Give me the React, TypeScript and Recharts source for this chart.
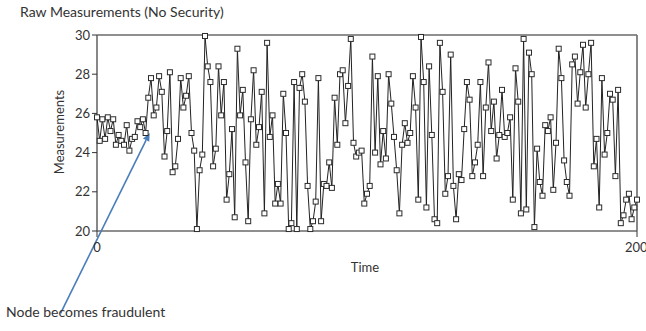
import React from 'react';
import {
  LineChart,
  Line,
  XAxis,
  YAxis,
  CartesianGrid,
  ReferenceLine,
  Label,
} from 'recharts';

const TITLE = 'Raw Measurements (No Security)';
const NOTE = 'Node becomes fraudulent';
const X_TICKS = [0, 200];
const Y_TICKS = [20, 22, 24, 26, 28, 30];

const MEASUREMENTS = [
  25.8, 24.6, 25.7, 24.7, 25.8, 25.1, 25.7, 24.4, 24.9, 24.6, 24.4, 25.4, 24.1, 24.7, 24.8, 25.6, 25.3,
  25.7, 25.0, 26.8, 27.8, 25.9, 26.3, 27.9, 27.1, 23.8, 25.1, 28.1, 23.0, 23.3, 24.7, 27.8,
  26.3, 26.9, 27.9, 25.0, 24.1, 20.1, 23.1, 23.9, 29.95, 28.4, 27.6, 23.3, 24.2, 28.4, 25.9, 27.6,
  21.6, 22.9, 25.2, 20.7, 29.3, 25.9, 27.2, 23.5, 20.5, 25.7, 28.2, 24.4, 25.3, 27.1, 20.9, 29.6,
  24.8, 25.9, 21.4,
  22.4, 21.4, 27.0, 25.0, 20.1, 20.4, 27.6, 20.1, 27.3, 28.0, 26.6, 22.3, 20.1, 20.5, 21.5, 27.8,
  20.5, 22.4, 22.3, 23.5, 22.2, 26.8, 24.4, 28.0, 28.2, 25.5, 27.4, 29.8, 24.5, 23.8, 24.0, 24.1,
  21.4,
  21.9, 22.3, 28.9, 24.0, 27.9, 23.4, 25.1, 23.7, 28.0, 26.5, 24.8, 23.1, 20.9, 24.4, 25.5, 24.5,
  25.0, 27.9, 26.3, 21.6, 29.9, 27.6, 21.2, 28.4, 24.9, 20.6, 20.4, 29.6, 27.1, 21.9, 22.8, 29.0,
  22.3, 20.6,
  22.9, 22.6, 25.2, 27.6, 26.7, 22.8, 23.5, 24.4, 27.6, 22.8, 26.3, 28.6, 25.1, 26.6, 23.7, 24.9,
  27.2, 24.8, 25.0, 25.8, 21.6, 28.3, 26.6, 20.9, 29.8, 21.1, 29.1, 28.0, 20.2, 24.2, 22.5, 21.8,
  25.4,
  25.1, 25.8, 22.1, 24.5, 29.3, 27.8, 23.6, 22.5, 21.8, 28.5, 28.9, 26.5, 28.1, 29.5, 26.3, 28.0,
  29.6, 23.3, 24.7, 21.2, 27.8, 23.9, 25.0, 27.0, 26.7, 22.8, 27.2, 20.4, 20.8, 21.6, 21.9, 20.6,
  21.2, 21.6,
];

// arrow from the caption up to the point where the node turns
const ARROW_FROM = { x: -13.5, y: 15.8 };
const ARROW_TO = { x: 19.5, y: 25.0 };

const data = MEASUREMENTS.map((v, i) => ({ t: i, v }));

const FONT = 'Lato, "Open Sans", sans-serif';
const INK = '#333';

function SquareDot(props: any) {
  const { cx, cy, index } = props;
  if (cx == null || cy == null) return null;
  return (
    <rect
      key={`d-${index}`}
      x={cx - 2.5}
      y={cy - 2.5}
      width={5}
      height={5}
      fill="#fff"
      stroke="#2b2b2b"
      strokeWidth={1}
    />
  );
}

function Arrow(props: any) {
  const { x1, y1, x2, y2 } = props;
  if ([x1, y1, x2, y2].some((n) => n == null || isNaN(n))) return null;
  const a = Math.atan2(y2 - y1, x2 - x1);
  const len = 8;
  const w = 3.5;
  const bx = x2 - len * Math.cos(a);
  const by = y2 - len * Math.sin(a);
  const px = -Math.sin(a) * w;
  const py = Math.cos(a) * w;
  return (
    <g>
      <line x1={x1} y1={y1} x2={bx} y2={by} stroke="#4a7ebb" strokeWidth={1.6} />
      <polygon
        points={`${x2},${y2} ${bx + px},${by + py} ${bx - px},${by - py}`}
        fill="#4a7ebb"
      />
    </g>
  );
}

export default function App() {
  return (
    <div
      style={{
        position: 'absolute',
        left: 0,
        top: 0,
        width: 646,
        height: 331,
        background: '#fff',
        fontFamily: FONT,
        color: INK,
      }}
    >
      <div style={{ position: 'absolute', left: 20, top: 3, fontSize: 14 }}>{TITLE}</div>
      <LineChart
        width={646}
        height={331}
        data={data}
        margin={{ top: 35, right: 9, bottom: 60, left: 0 }}
      >
        <CartesianGrid
          stroke="#6a6a6a"
          strokeWidth={1.6}
          horizontalValues={[20, 30]}
          verticalValues={[0, 200]}
        />
        <XAxis
          dataKey="t"
          type="number"
          domain={[0, 200]}
          ticks={X_TICKS}
          axisLine={false}
          tickLine={{ stroke: INK }}
          tickSize={6}
          tickMargin={6}
          tick={{ fontSize: 13, fill: INK, fontFamily: FONT }}
          height={40}
        >
          <Label
            content={() => (
              <text x={365} y={272} textAnchor="middle" fontSize={13} fill={INK} fontFamily={FONT}>
                Time
              </text>
            )}
          />
        </XAxis>
        <YAxis
          type="number"
          domain={[20, 30]}
          ticks={Y_TICKS}
          axisLine={false}
          tickLine={{ stroke: INK }}
          tickSize={5}
          tick={{ fontSize: 13, fill: INK, fontFamily: FONT }}
          width={97}
        >
          <Label
            content={() => (
              <text
                x={0}
                y={0}
                transform="translate(64 132) rotate(-90)"
                textAnchor="middle"
                fontSize={13}
                fill={INK}
                fontFamily={FONT}
              >
                Measurements
              </text>
            )}
          />
        </YAxis>
        <Line
          type="linear"
          dataKey="v"
          stroke="#222"
          strokeWidth={1}
          dot={SquareDot}
          activeDot={false}
          isAnimationActive={false}
        />
        <ReferenceLine
          segment={[ARROW_FROM, ARROW_TO]}
          ifOverflow="visible"
          shape={Arrow}
        />
      </LineChart>
      <div style={{ position: 'absolute', left: 6, top: 303, fontSize: 14 }}>{NOTE}</div>
    </div>
  );
}
